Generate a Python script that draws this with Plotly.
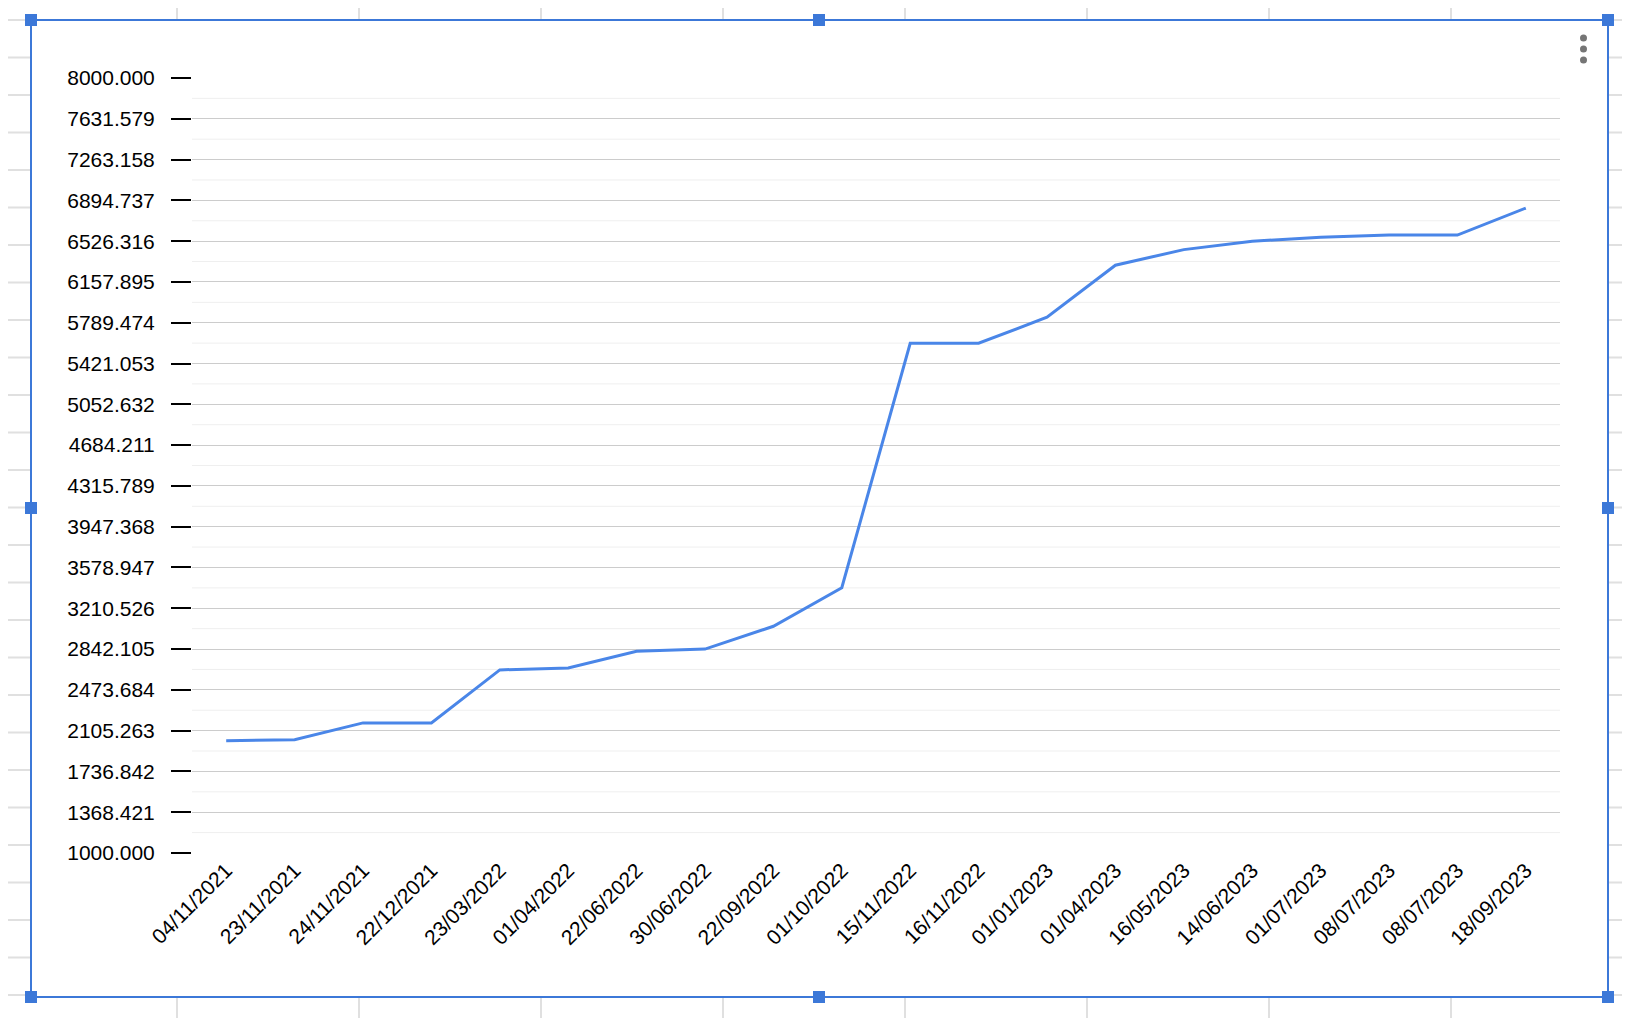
import plotly.graph_objects as go

dates = ["04/11/2021","23/11/2021","24/11/2021","22/12/2021","23/03/2022","01/04/2022",
         "22/06/2022","30/06/2022","22/09/2022","01/10/2022","15/11/2022","16/11/2022",
         "01/01/2023","01/04/2023","16/05/2023","14/06/2023","01/07/2023","08/07/2023",
         "08/07/2023","18/09/2023"]
values = [2015,2024,2175,2175,2654,2672,2823,2842,3048,3396,5604,5604,5839,6309,6450,
          6525,6562,6581,6581,6825]
ytick_vals = [1000 + i*7000/19 for i in range(20)]
ytick_text = [f"{v:.3f}" for v in ytick_vals]

O = 8  # page body margin
W, H = 1630 - O, 1018 - O
L, R, T, B = 192 - O, 1560 - O, 78 - O, 853 - O
def px(x): return (x - O - L) / (R - L)
def py(y): return (B - (y - O)) / (B - T)

fig = go.Figure(go.Scatter(x=list(range(len(dates))), y=values, mode="lines",
                           line=dict(color="#4a86e8", width=3), hoverinfo="skip"))

shapes = []
grey = dict(color="#e0e0e0", width=2)
for vx in [177, 359, 541, 723, 905, 1087, 1269, 1451]:
    shapes.append(dict(type="line", xref="paper", yref="paper", x0=px(vx), x1=px(vx), y0=py(0), y1=py(1100), line=grey, layer="below"))
for i in range(30):
    hy = 20 + i*37.5
    shapes.append(dict(type="line", xref="paper", yref="paper", x0=px(0), x1=px(1700), y0=py(hy), y1=py(hy), line=grey, layer="below"))
shapes.append(dict(type="rect", xref="paper", yref="paper", x0=px(31), x1=px(1608), y0=py(20), y1=py(997),
                   fillcolor="white", line=dict(color="#3c78d8", width=2), layer="below"))
for hx, hy in [(31,20),(819,20),(1608,20),(31,508),(1608,508),(31,997),(819,997),(1608,997)]:
    shapes.append(dict(type="rect", xref="paper", yref="paper", x0=px(hx-6), x1=px(hx+6), y0=py(hy-6), y1=py(hy+6),
                       fillcolor="#3c78d8", line=dict(width=0)))
for i in range(19):
    my = 1000 + (i+0.5)*7000/19
    shapes.append(dict(type="line", xref="paper", yref="y", x0=0, x1=1, y0=my, y1=my,
                       line=dict(color="#efefef", width=1), layer="below"))
for dy in [38, 49, 60]:
    shapes.append(dict(type="circle", xref="paper", yref="paper", x0=px(1580), x1=px(1587),
                       y0=py(dy-3.5), y1=py(dy+3.5), fillcolor="#757575", line=dict(width=0)))

fig.update_layout(
    width=W, height=H, margin=dict(l=L, r=W-R, t=T, b=H-B),
    paper_bgcolor="white", plot_bgcolor="rgba(0,0,0,0)", showlegend=False,
    font=dict(family="Arial, Liberation Sans", size=21, color="#000"),
    shapes=shapes,
    xaxis=dict(tickmode="array", tickvals=list(range(len(dates))), ticktext=dates,
               tickangle=-45, range=[-0.5, 19.5], showgrid=False, zeroline=False,
               showline=False, ticks=""),
    yaxis=dict(tickmode="array", tickvals=ytick_vals, ticktext=ytick_text,
               range=[1000, 8000], gridcolor="#cccccc", gridwidth=1, zeroline=False,
               ticks="outside", ticklen=20, tickcolor="#000", tickwidth=1.5,
               ticklabelstandoff=12, showline=False),
)
fig.write_html("out.html")
